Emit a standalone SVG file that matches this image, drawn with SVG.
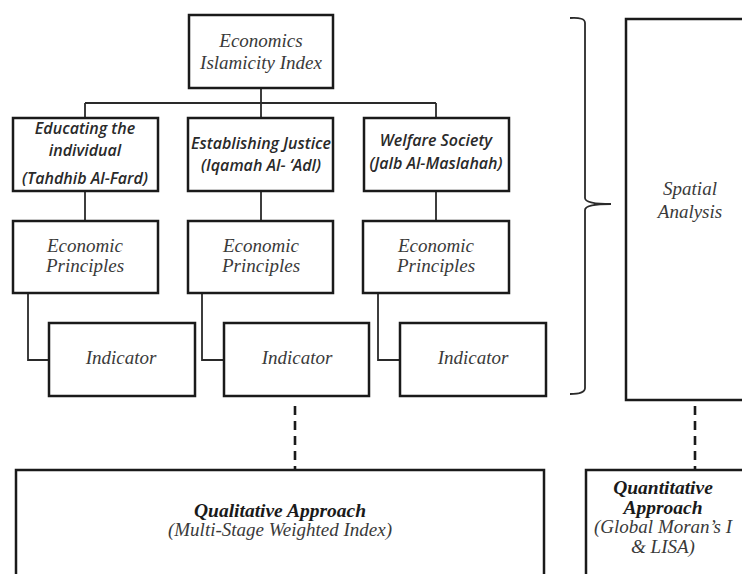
<svg xmlns="http://www.w3.org/2000/svg" width="742" height="574" viewBox="0 0 742 574">
<style>
.box{fill:#fff;stroke:#1a1a1a;stroke-width:2.5}
.ln{fill:none;stroke:#2a2a2a;stroke-width:1.8}
.dash{fill:none;stroke:#1a1a1a;stroke-width:2.6;stroke-dasharray:9 6}
.sr{font-family:"Liberation Serif","DejaVu Serif",serif;font-style:italic;font-size:19px;fill:#3a3a3a;text-anchor:middle}
.srb{font-family:"Liberation Serif","DejaVu Serif",serif;font-style:italic;font-weight:bold;font-size:19.5px;fill:#1a1a1a;text-anchor:middle}
.ss{font-family:"Open Sans","Liberation Sans",sans-serif;font-style:italic;font-weight:600;font-size:16px;fill:#2a2a2a;text-anchor:middle}
</style>
<rect width="742" height="574" fill="#fff"/>
<g id="connectors">
<path class="ln" d="M261 88V103M85 103H436M85 103V118M261 103V118M436 103V118"/>
<path class="ln" d="M85 191V221M261 191V221M436 191V221"/>
<path class="ln" d="M28 293V360H49M202 293V360H224M378 293V360H400"/>
<path class="ln" d="M570 18Q585 17 585 23V198Q585 204 611 204Q585 204 585 210V388Q585 394 570 394" stroke-width="2.2"/>
<path class="dash" d="M295 406V469"/>
<path class="dash" d="M695 406V469"/>
</g>
<g id="root"><rect class="box" x="189" y="15" width="144" height="73"/>
<text class="sr" x="261" y="47">Economics</text><text class="sr" x="261" y="69">Islamicity Index</text></g>
<g id="educating"><rect class="box" x="13" y="118" width="145" height="73"/>
<text class="ss" x="85" y="134">Educating the</text><text class="ss" x="85" y="156">individual</text><text class="ss" x="85" y="184">(Tahdhib Al-Fard)</text></g>
<g id="justice"><rect class="box" x="188" y="118" width="145" height="73"/>
<text class="ss" x="261" y="149">Establishing Justice</text><text class="ss" x="261" y="171">(Iqamah Al- ‘Adl)</text></g>
<g id="welfare"><rect class="box" x="364" y="118" width="145" height="73"/>
<text class="ss" x="436" y="146">Welfare Society</text><text class="ss" x="436" y="169">(Jalb Al-Maslahah)</text></g>
<g id="ep1"><rect class="box" x="13" y="221" width="145" height="72"/>
<text class="sr" x="85" y="252">Economic</text><text class="sr" x="85" y="272">Principles</text></g>
<g id="ep2"><rect class="box" x="188" y="221" width="145" height="72"/>
<text class="sr" x="261" y="252">Economic</text><text class="sr" x="261" y="272">Principles</text></g>
<g id="ep3"><rect class="box" x="363" y="221" width="146" height="72"/>
<text class="sr" x="436" y="252">Economic</text><text class="sr" x="436" y="272">Principles</text></g>
<g id="ind1"><rect class="box" x="49" y="323" width="146" height="73"/>
<text class="sr" x="121" y="364">Indicator</text></g>
<g id="ind2"><rect class="box" x="224" y="323" width="145" height="73"/>
<text class="sr" x="297" y="364">Indicator</text></g>
<g id="ind3"><rect class="box" x="400" y="323" width="146" height="73"/>
<text class="sr" x="473" y="364">Indicator</text></g>
<g id="spatial"><rect class="box" x="626" y="19" width="130" height="381"/>
<text class="sr" x="690" y="195">Spatial</text><text class="sr" x="690" y="218">Analysis</text></g>
<g id="qualitative"><rect class="box" x="16" y="470" width="528" height="120"/>
<text class="srb" x="280" y="517">Qualitative Approach</text><text class="sr" x="280" y="536">(Multi-Stage Weighted Index)</text></g>
<g id="quantitative"><rect class="box" x="586" y="470" width="170" height="120"/>
<text class="srb" x="663" y="494">Quantitative</text><text class="srb" x="663" y="514">Approach</text><text class="sr" x="663" y="533">(Global Moran’s I</text><text class="sr" x="663" y="553">&amp; LISA)</text></g>
</svg>
